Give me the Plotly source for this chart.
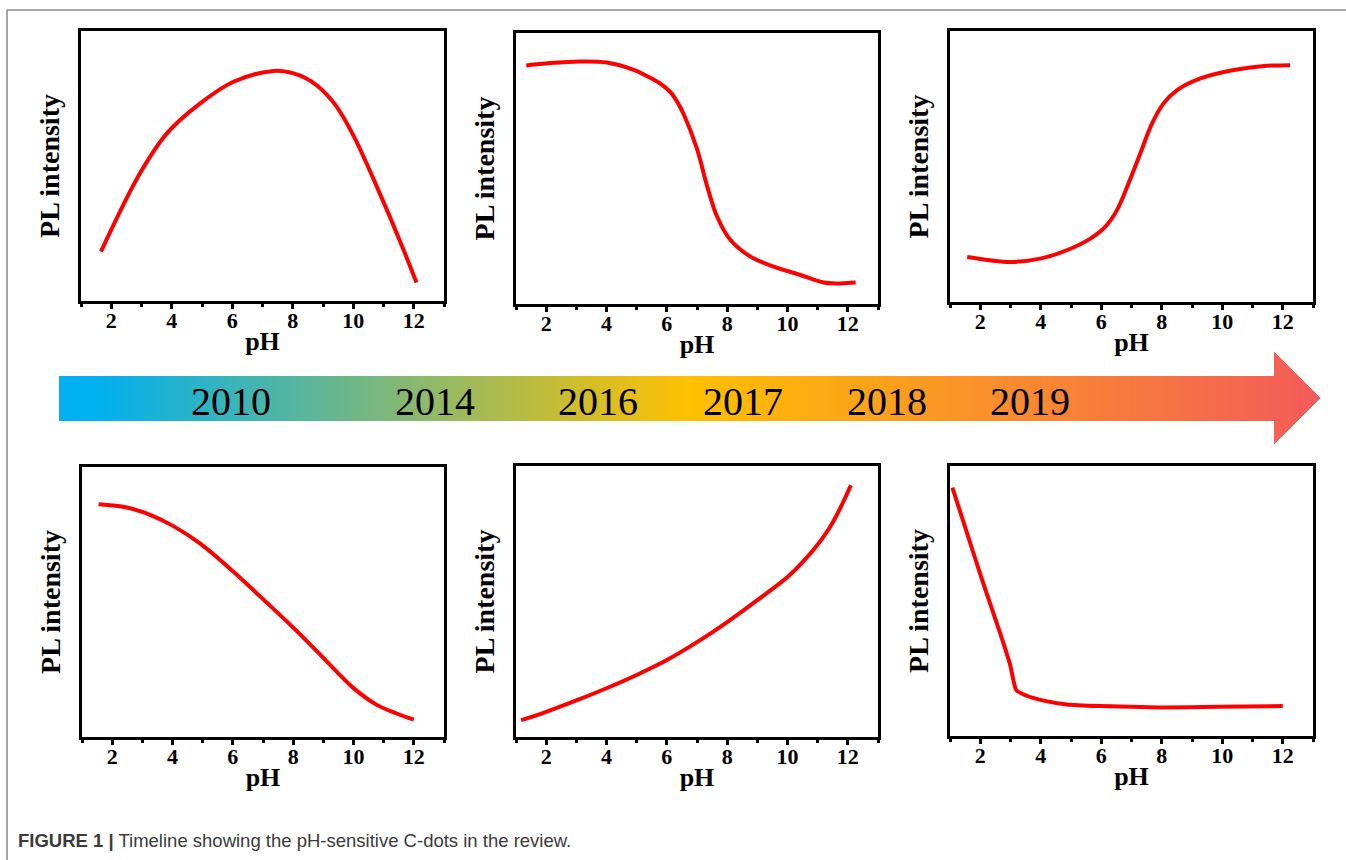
import plotly.graph_objects as go

# ---------------- data ----------------
ph_1 = [1.66, 2.95, 3.84, 4.94, 6.04, 7.37, 8.03, 8.45, 8.80, 9.10, 9.45, 10.02, 10.79, 11.56, 12.09]
pl_1 = [0.183, 0.473, 0.621, 0.732, 0.812, 0.852, 0.843, 0.824, 0.798, 0.767, 0.720, 0.610, 0.421, 0.218, 0.068]

ph_2 = [1.34, 2.13, 3.13, 4.01, 4.90, 5.56, 5.85, 6.12, 6.35, 6.56, 7.00, 7.33, 7.66, 8.11, 8.77, 9.54, 10.43, 11.20, 11.76, 12.26]
pl_2 = [0.880, 0.889, 0.895, 0.891, 0.864, 0.828, 0.808, 0.782, 0.745, 0.700, 0.572, 0.437, 0.324, 0.236, 0.175, 0.138, 0.107, 0.079, 0.076, 0.079]

ph_3 = [1.57, 2.32, 3.04, 3.98, 4.86, 5.64, 6.13, 6.52, 6.90, 7.29, 7.68, 8.06, 8.51, 9.28, 10.38, 11.38, 12.24]
pl_3 = [0.166, 0.154, 0.148, 0.160, 0.191, 0.234, 0.277, 0.339, 0.437, 0.548, 0.659, 0.733, 0.782, 0.825, 0.856, 0.871, 0.874]

ph_4 = [1.55, 2.49, 3.26, 4.03, 4.92, 6.02, 7.13, 8.01, 8.78, 9.44, 9.99, 10.77, 11.43, 12.0]
pl_4 = [0.862, 0.850, 0.823, 0.781, 0.716, 0.612, 0.497, 0.404, 0.318, 0.242, 0.182, 0.119, 0.087, 0.064]

ph_5 = [1.17, 2.0, 3.0, 4.0, 5.0, 6.0, 7.0, 8.0, 9.0, 10.0, 10.6, 11.0, 11.4, 11.75, 12.10]
pl_5 = [0.062, 0.093, 0.135, 0.180, 0.229, 0.284, 0.350, 0.424, 0.505, 0.590, 0.657, 0.710, 0.773, 0.845, 0.929]

ph_6 = [1.08, 1.55, 2.10, 2.66, 2.99, 3.19, 3.54, 4.09, 4.86, 5.97, 7.95, 9.83, 12.0]
pl_6 = [0.920, 0.756, 0.565, 0.380, 0.263, 0.170, 0.149, 0.131, 0.117, 0.111, 0.106, 0.108, 0.111]

years = ["2010", "2014", "2016", "2017", "2018", "2019"]
ph_major_ticks = [2, 4, 6, 8, 10, 12]
ph_minor_ticks = [1, 3, 5, 7, 9, 11, 13]
caption_bold = "FIGURE 1 |"
caption_text = "Timeline showing the pH-sensitive C-dots in the review."

# ---------------- layout geometry (pixels) ----------------
W, H = 1346, 860
SERIF = "Liberation Serif, Times New Roman, serif"

def dx(a, b):
    return [a / W, b / W]

def dy(top, bottom):
    return [1 - bottom / H, 1 - top / H]

panel_boxes = [
    (81, 444, 31, 301),
    (516, 878, 33, 304),
    (950, 1313, 31, 302),
    (82, 444, 467, 737),
    (516, 878, 466, 737),
    (950, 1313, 466, 736),
]
series = [(ph_1, pl_1), (ph_2, pl_2), (ph_3, pl_3), (ph_4, pl_4), (ph_5, pl_5), (ph_6, pl_6)]

fig = go.Figure()
layout_axes = {}

for i, ((xs, ys), (x0, x1, y0, y1)) in enumerate(zip(series, panel_boxes), start=1):
    sfx = "" if i == 1 else str(i)
    fig.add_trace(go.Scatter(
        x=xs, y=ys, mode="lines",
        line=dict(color="#FF0000", width=4, shape="spline", smoothing=1.0 if i != 6 else 0.5),
        xaxis="x" + sfx, yaxis="y" + sfx, showlegend=False, hoverinfo="skip",
    ))
    layout_axes["xaxis" + sfx] = dict(
        domain=dx(x0, x1), anchor="y" + sfx, range=[1, 13],
        tickvals=ph_major_ticks, ticks="outside", ticklen=5, tickwidth=2.5, tickcolor="black",
        ticklabelstandoff=-7,
        showline=True, linewidth=3, linecolor="black", mirror=True,
        showgrid=False, zeroline=False, fixedrange=True,
        tickfont=dict(family=SERIF, size=22, color="black", weight="bold"),
        title=dict(text="pH", font=dict(family=SERIF, size=26, color="black", weight="bold"), standoff=0),
        minor=dict(tickvals=ph_minor_ticks, ticks="outside", ticklen=3, tickwidth=2.5,
                   tickcolor="black", showgrid=False),
    )
    layout_axes["yaxis" + sfx] = dict(
        domain=dy(y0, y1), anchor="x" + sfx, range=[0, 1],
        showticklabels=False, ticks="", showgrid=False, zeroline=False,
        showline=True, linewidth=3, linecolor="black", mirror=True, fixedrange=True,
        title=dict(text="PL intensity", font=dict(family=SERIF, size=28, color="black", weight="bold"),
                   standoff=11),
    )

# ---------------- gradient timeline arrow ----------------
band_x0, band_x1, band_top, band_bot = 59, 1274, 376, 421
head_x1, head_top, head_bot = 1320, 352, 444
head_mid = (head_top + head_bot) / 2
gradient = [[0.0, "#00B0F0"], [0.03, "#00B0F0"], [0.5, "#FFC000"], [1.0, "#F45A5A"]]

band_edges = list(range(band_x0, band_x1 + 1, 3))
if band_edges[-1] != band_x1:
    band_edges.append(band_x1)
band_z = [[(band_edges[k] + band_edges[k + 1]) / 2 for k in range(len(band_edges) - 1)]]
fig.add_trace(go.Heatmap(
    x=band_edges, y=[band_top, band_bot], z=band_z, colorscale=gradient,
    zmin=band_x0, zmax=head_x1, showscale=False, hoverinfo="skip",
    xaxis="x7", yaxis="y7",
))

head_xe = list(range(band_x1, head_x1 + 1))
head_ye = list(range(head_top, head_bot + 1))
head_z = []
for r in range(len(head_ye) - 1):
    yc = (head_ye[r] + head_ye[r + 1]) / 2
    row = []
    for c in range(len(head_xe) - 1):
        xc = (head_xe[c] + head_xe[c + 1]) / 2
        half = (head_bot - head_top) / 2 * (head_x1 - xc) / (head_x1 - band_x1)
        row.append(xc if abs(yc - head_mid) <= half else None)
    head_z.append(row)
fig.add_trace(go.Heatmap(
    x=head_xe, y=head_ye, z=head_z, colorscale=gradient,
    zmin=band_x0, zmax=head_x1, showscale=False, hoverinfo="skip",
    xaxis="x7", yaxis="y7",
))
layout_axes["xaxis7"] = dict(domain=[0, 1], range=[0, W], visible=False, fixedrange=True, anchor="y7")
layout_axes["yaxis7"] = dict(domain=[0, 1], range=[H, 0], visible=False, fixedrange=True, anchor="x7")

year_x = [231, 435, 598, 743, 887, 1030]
annotations = [
    dict(text=yr, x=xp / W, y=1 - 401 / H, xref="paper", yref="paper",
         xanchor="center", yanchor="middle", showarrow=False,
         font=dict(family=SERIF, size=40, color="black"))
    for yr, xp in zip(years, year_x)
]
annotations.append(dict(
    text=f"<b>{caption_bold}</b> {caption_text}",
    x=16 / W, y=1 - 840 / H, xref="paper", yref="paper",
    xanchor="left", yanchor="middle", showarrow=False,
    font=dict(family="Liberation Sans Narrow, Arial Narrow, Liberation Sans, sans-serif", size=18.5, color="#3a3a3a"),
))

shapes = [
    dict(type="line", xref="paper", yref="paper", x0=7 / W, x1=1, y0=1 - 10 / H, y1=1 - 10 / H,
         line=dict(color="#8a8a8a", width=1.5)),
    dict(type="line", xref="paper", yref="paper", x0=7 / W, x1=7 / W, y0=0, y1=1 - 10 / H,
         line=dict(color="#8a8a8a", width=1.5)),
]

fig.update_layout(
    width=W, height=H, margin=dict(l=0, r=0, t=0, b=0),
    paper_bgcolor="white", plot_bgcolor="rgba(0,0,0,0)",
    showlegend=False, annotations=annotations, shapes=shapes,
    **layout_axes,
)

fig.write_html("out.html", config={"displayModeBar": False},
               post_script="document.body.style.margin='0px';document.body.style.overflow='hidden';")
